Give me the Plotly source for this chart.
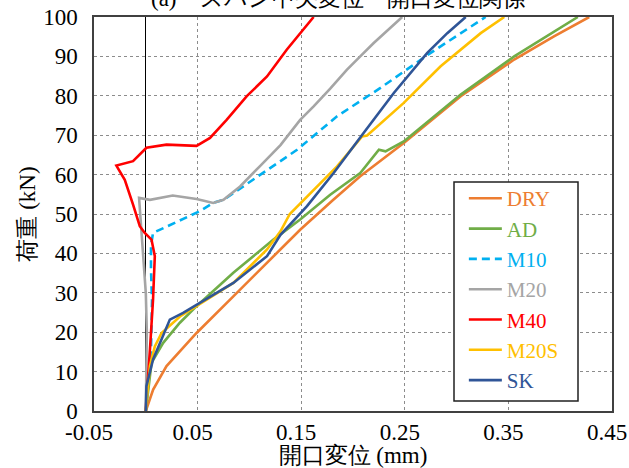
import plotly.graph_objects as go

# ---- data (opening displacement mm, load kN) ----
DRY_x = [0, 0.0071, 0.020, 0.049, 0.0845, 0.123, 0.149, 0.181, 0.207, 0.249, 0.304, 0.3556, 0.394, 0.428]
DRY_y = [0, 5.45, 11.4, 19.8, 29.1, 39.3, 46.0, 53.6, 59.6, 68.0, 79.9, 89.2, 95.1, 100]

AD_x = [0, 0.002, 0.0055, 0.0168, 0.0329, 0.049, 0.0845, 0.1232, 0.149, 0.178, 0.207, 0.225, 0.2314, 0.249, 0.304, 0.3556, 0.394, 0.417]
AD_y = [0, 5, 12.2, 17.3, 22.4, 26.6, 35.1, 43.5, 48.6, 54.9, 60.4, 66.3, 65.9, 68.4, 80.3, 90.0, 96.3, 100]

M10_x = [0, 0.003, 0.005, 0.006, 0.005, 0.005, 0.007, 0.052, 0.065, 0.075, 0.104, 0.1297, 0.146, 0.1846, 0.2265, 0.275, 0.31, 0.328]
M10_y = [0, 8, 15, 28, 36, 42, 45.2, 50.7, 52.8, 53.6, 58.7, 63.4, 66.3, 74.8, 82.0, 90.9, 96.8, 100]

M20_x = [0, 0.0005, 0.001, 0, -0.002, -0.004, -0.006, -0.0065, 0.004, 0.026, 0.049, 0.065, 0.075, 0.091, 0.110, 0.130, 0.149, 0.162, 0.178, 0.194, 0.207, 0.22, 0.2475]
M20_y = [0, 10, 20, 30, 37, 45, 50, 54.1, 53.6, 54.7, 53.8, 52.8, 53.6, 57.0, 62.1, 67.5, 73.9, 77.3, 81.8, 86.6, 90.0, 93.4, 100]

M40_x = [0, 0.0006, 0.004, 0.007, 0.0087, 0.0055, -0.001, -0.0058, -0.0123, -0.0203, -0.0284, -0.0123, 0.0006, 0.020, 0.049, 0.062, 0.078, 0.0975, 0.117, 0.136, 0.162]
M40_y = [0, 2.9, 15.6, 28.3, 39.3, 43.5, 45.2, 46.9, 52.4, 58.7, 62.3, 63.4, 66.8, 67.6, 67.3, 69.3, 73.9, 79.9, 84.9, 91.7, 100]

M20S_x = [0, 0.002, 0.004, 0.0087, 0.0152, 0.033, 0.049, 0.0845, 0.117, 0.13, 0.139, 0.1556, 0.1846, 0.2088, 0.2136, 0.249, 0.2846, 0.3233, 0.346]
M20S_y = [0, 5, 11.4, 16.4, 19.8, 24.0, 26.6, 32.5, 41.0, 45.6, 50.0, 54.5, 62.1, 69.7, 69.9, 78.2, 87.5, 95.9, 100]

SK_x = [0, 0.0006, 0.007, 0.0168, 0.0232, 0.036, 0.052, 0.0845, 0.117, 0.13, 0.1556, 0.1813, 0.2104, 0.2394, 0.2717, 0.291, 0.3088]
SK_y = [0, 6.3, 13.1, 19.0, 23.2, 24.9, 27.4, 32.5, 39.3, 44.7, 52.0, 60.4, 70.6, 80.7, 90.9, 95.9, 100]

x_tickvals = [-0.05, 0.05, 0.15, 0.25, 0.35, 0.45]
x_ticktext = ["-0.05", "0.05", "0.15", "0.25", "0.35", "0.45"]
y_tickvals = [0, 10, 20, 30, 40, 50, 60, 70, 80, 90, 100]
y_ticktext = ["0", "10", "20", "30", "40", "50", "60", "70", "80", "90", "100"]

series = [
    ("DRY", DRY_x, DRY_y, "#ED7D31", "solid"),
    ("AD", AD_x, AD_y, "#70AD47", "solid"),
    ("M10", M10_x, M10_y, "#00B0F0", "dash"),
    ("M20", M20_x, M20_y, "#A5A5A5", "solid"),
    ("M40", M40_x, M40_y, "#FF0000", "solid"),
    ("M20S", M20S_x, M20S_y, "#FFC000", "solid"),
    ("SK", SK_x, SK_y, "#2F5597", "solid"),
]

SERIF = "Liberation Serif, serif"

fig = go.Figure()
for name, xs, ys, col, dash in series:
    fig.add_trace(go.Scatter(
        x=xs, y=ys, mode="lines",
        name=f"<span style='color:{col}'>{name}</span>",
        line=dict(color=col, width=2.6, dash=("8px,5px" if dash == "dash" else "solid")),
    ))

fig.update_layout(
    template="none",
    width=629, height=468,
    margin=dict(l=94, r=17, t=17, b=57),
    paper_bgcolor="white", plot_bgcolor="white",
    font=dict(family=SERIF, size=23, color="#000000"),
    showlegend=True,
    legend=dict(
        x=0.714, y=0.591, xanchor="left", yanchor="top",
        bgcolor="rgba(0,0,0,0)", borderwidth=0,
        font=dict(family=SERIF, size=21, color="#000000"),
        itemwidth=33, tracegroupgap=0,
    ),
    shapes=[dict(
        type="rect", xref="paper", yref="paper", layer="above",
        x0=(454 - 94) / 518, x1=(578 - 94) / 518,
        y0=(411 - 401) / 394, y1=(411 - 182) / 394,
        line=dict(color="#202020", width=1.5), fillcolor="white",
    )],
    annotations=[dict(
        text="(a)　スパン中央変位－開口変位関係", xref="paper", yref="paper",
        x=(338 - 94) / 518, y=(411 - 13.5) / 394, xanchor="center", yanchor="bottom",
        showarrow=False, font=dict(family=SERIF, size=23, color="#000000"),
    )],
)

fig.update_xaxes(
    range=[-0.05, 0.45], tickvals=x_tickvals, ticktext=x_ticktext,
    tickfont=dict(family=SERIF, size=23, color="#000000"),
    showgrid=True, gridcolor="#8C8C8C", gridwidth=1, griddash="3px,3px",
    zeroline=True, zerolinecolor="#000000", zerolinewidth=1.3,
    showline=True, linecolor="#404040", linewidth=1.5, mirror=True,
    ticks="", ticklabelshift=-5, ticklabelstandoff=0, automargin=False,
    title=dict(text="開口変位 (mm)", font=dict(family=SERIF, size=23, color="#000000"), standoff=11),
)
fig.update_yaxes(
    range=[0, 100], tickvals=y_tickvals, ticktext=y_ticktext,
    tickfont=dict(family=SERIF, size=23, color="#000000"),
    showgrid=True, gridcolor="#8C8C8C", gridwidth=1, griddash="3px,3px",
    zeroline=False,
    showline=True, linecolor="#404040", linewidth=1.5, mirror=True,
    ticks="", ticklabelstandoff=10, automargin=False,
    title=dict(text="荷重 (kN)", font=dict(family=SERIF, size=23, color="#000000"), standoff=1),
)

fig.write_html("out.html")
